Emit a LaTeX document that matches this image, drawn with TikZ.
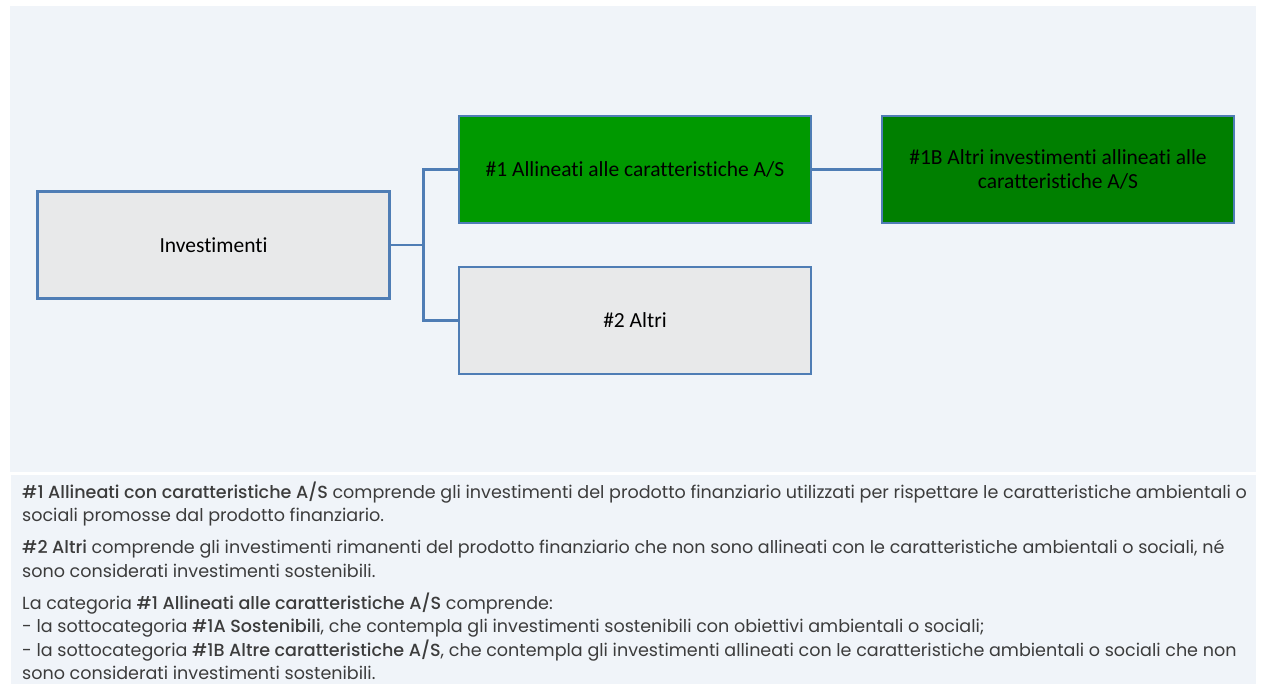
\documentclass[tikz,border=0pt]{standalone}
\usepackage{fontspec}
\setmainfont{Poppins}[BoldFont={Poppins Medium}]
\newfontfamily\boxfont{Carlito}[Ligatures={NoCommon}]
\definecolor{panelbg}{HTML}{F0F4F9}
\definecolor{boxline}{HTML}{4F7DB5}
\definecolor{greyfill}{HTML}{E8E9EA}
\definecolor{greenA}{HTML}{009900}
\definecolor{greenB}{HTML}{007F00}
\definecolor{bodytext}{HTML}{3C3C3C}
\tikzset{
  catbox/.style={draw=boxline, line width=2.2pt, minimum width=352pt, minimum height=107pt,
    inner sep=0pt, font=\boxfont\fontsize{21.5}{24.5}\selectfont, text=black, align=center},
  conn/.style={draw=boxline, line width=2.2pt},
  bodyline/.style={anchor=base west, inner sep=0pt, text=bodytext,
    font=\fontsize{17.55}{19}\selectfont}
}
\begin{document}
\begin{tikzpicture}[x=1pt,y=-1pt]
\useasboundingbox (0,0) rectangle (1264,684);
\fill[white] (0,0) rectangle (1264,684);
\fill[panelbg] (10,6) rectangle (1256,472);
\fill[panelbg] (11,475) rectangle (1256,684);

\node[catbox, fill=greyfill] (inv) at (213.5,245) {Investimenti};
\node[catbox, fill=greenA] (a1) at (635,169.5) {\#1 Allineati alle caratteristiche A/S};
\node[catbox, fill=greenB] (a1b) at (1058,169.5) {\#1B Altri investimenti allineati alle\\caratteristiche A/S};
\node[catbox, fill=greyfill] (a2) at (635,320.5) {\#2 Altri};

\coordinate (trunk) at (423.5,245);
\draw[conn] (inv.east) -- (trunk);
\draw[conn] (a1.west) -| (trunk) |- (a2.west);
\draw[conn] (a1.east) -- (a1b.west);

\node[bodyline] (l1) at (22,498) {\textbf{\#1 Allineati con caratteristiche A/S} comprende gli investimenti del prodotto finanziario utilizzati per rispettare le caratteristiche ambientali o};
\node[bodyline] (l2) at (22,521.5) {sociali promosse dal prodotto finanziario.};
\node[bodyline] (l3) at (22,553.5) {\textbf{\#2 Altri} comprende gli investimenti rimanenti del prodotto finanziario che non sono allineati con le caratteristiche ambientali o sociali, né};
\node[bodyline] (l4) at (22,577) {sono considerati investimenti sostenibili.};
\node[bodyline] (l5) at (22,609) {La categoria \textbf{\#1 Allineati alle caratteristiche A/S} comprende:};
\node[bodyline] (l6) at (22,632.5) {- la sottocategoria \textbf{\#1A Sostenibili}, che contempla gli investimenti sostenibili con obiettivi ambientali o sociali;};
\node[bodyline] (l7) at (22,656) {- la sottocategoria \textbf{\#1B Altre caratteristiche A/S}, che contempla gli investimenti allineati con le caratteristiche ambientali o sociali che non};
\node[bodyline] (l8) at (22,679.5) {sono considerati investimenti sostenibili.};
\end{tikzpicture}
\end{document}
